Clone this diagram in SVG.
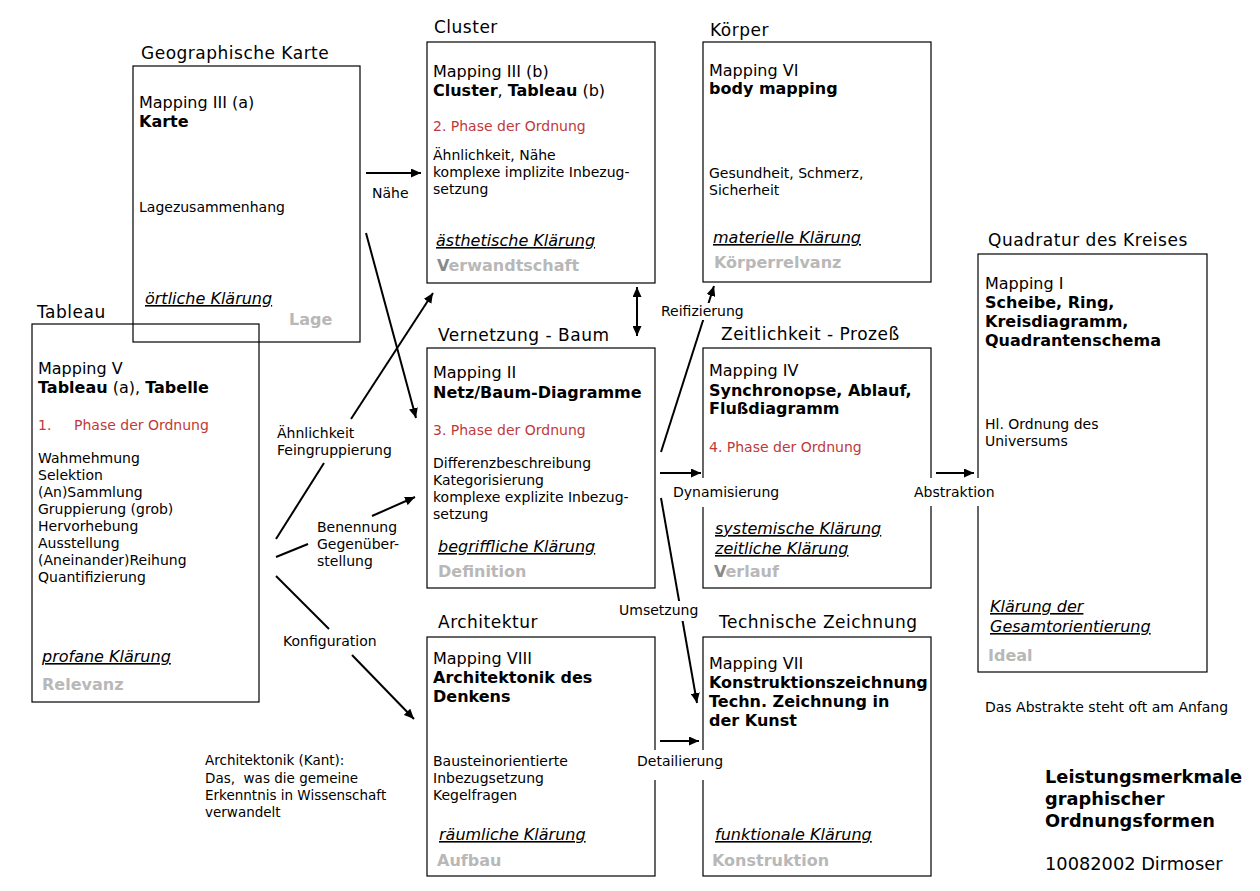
<svg xmlns="http://www.w3.org/2000/svg" width="1260" height="891" viewBox="0 0 1260 891">
<style>
text{font-family:"DejaVu Sans",Verdana,sans-serif;fill:#000}
.box{fill:none;stroke:#000;stroke-width:1.2}
.ti{font-size:17px;letter-spacing:0.5px}
.m{font-size:16px}
.b{font-weight:bold}
.r{font-size:14px;fill:#c03a3a}
.s{font-size:14px}
.k{font-size:16px;font-style:italic;text-decoration:underline;text-decoration-thickness:1.6px;text-underline-offset:2px}
.g{font-size:16px;font-weight:bold;fill:#b8b8b8}
.gd{fill:#8a8a8a}
.kant{font-size:13.5px}
.big{font-size:17.8px}
.ln{stroke:#000;stroke-width:2;fill:none}
.bg{fill:#fff}
</style>
<defs>
<marker id="ah" markerUnits="userSpaceOnUse" markerWidth="11" markerHeight="9" refX="10" refY="4.5" orient="auto-start-reverse">
<path d="M0,0 L10,4.5 L0,9 Z" fill="#000"/>
</marker>
</defs>

<g id="geographische-karte">
<rect class="box" x="133" y="66" width="227" height="276"/>
<text class="ti" x="141" y="59">Geographische Karte</text>
<text class="m" x="139" y="108">Mapping III (a)</text>
<text class="m b" x="139" y="127">Karte</text>
<text class="s" x="139" y="212">Lagezusammenhang</text>
<text class="k" x="145" y="304">örtliche Klärung</text>
<text class="g" x="289" y="325">Lage</text>
</g>

<g id="tableau">
<rect class="box" x="32" y="324" width="227" height="378"/>
<text class="ti" x="37" y="318">Tableau</text>
<text class="m" x="38" y="374">Mapping V</text>
<text class="m" x="38" y="393"><tspan class="b">Tableau</tspan> (a), <tspan class="b">Tabelle</tspan></text>
<text class="r" x="38" y="430">1.</text>
<text class="r" x="74" y="430">Phase der Ordnung</text>
<text class="s" x="38" y="463">Wahmehmung</text>
<text class="s" x="38" y="480">Selektion</text>
<text class="s" x="38" y="497">(An)Sammlung</text>
<text class="s" x="38" y="514">Gruppierung (grob)</text>
<text class="s" x="38" y="531">Hervorhebung</text>
<text class="s" x="38" y="548">Ausstellung</text>
<text class="s" x="38" y="565">(Aneinander)Reihung</text>
<text class="s" x="38" y="582">Quantifizierung</text>
<text class="k" x="42" y="662">profane Klärung</text>
<text class="g" x="42" y="690">Relevanz</text>
</g>

<g id="cluster">
<rect class="box" x="427" y="42" width="228" height="241"/>
<text class="ti" x="434" y="33">Cluster</text>
<text class="m" x="433" y="77">Mapping III (b)</text>
<text class="m" x="433" y="96"><tspan class="b">Cluster</tspan>, <tspan class="b">Tableau</tspan> (b)</text>
<text class="r" x="433" y="131">2. Phase der Ordnung</text>
<text class="s" x="433" y="160">Ähnlichkeit, Nähe</text>
<text class="s" x="433" y="177">komplexe implizite Inbezug-</text>
<text class="s" x="433" y="194">setzung</text>
<text class="k" x="436" y="246">ästhetische Klärung</text>
<text class="g" x="437" y="271"><tspan class="gd">V</tspan>erwandtschaft</text>
</g>

<g id="koerper">
<rect class="box" x="703" y="42" width="228" height="240"/>
<text class="ti" x="710" y="36">Körper</text>
<text class="m" x="709" y="76">Mapping VI</text>
<text class="m b" x="709" y="94">body mapping</text>
<text class="s" x="709" y="178">Gesundheit, Schmerz,</text>
<text class="s" x="709" y="195">Sicherheit</text>
<text class="k" x="713" y="243">materielle Klärung</text>
<text class="g" x="714" y="268">Körperrelvanz</text>
</g>

<g id="vernetzung">
<rect class="box" x="427" y="348" width="228" height="240"/>
<text class="ti" x="438" y="341">Vernetzung - Baum</text>
<text class="m" x="433" y="378">Mapping II</text>
<text class="m b" x="433" y="398">Netz/Baum-Diagramme</text>
<text class="r" x="433" y="435">3. Phase der Ordnung</text>
<text class="s" x="433" y="468">Differenzbeschreibung</text>
<text class="s" x="433" y="485">Kategorisierung</text>
<text class="s" x="433" y="502">komplexe explizite Inbezug-</text>
<text class="s" x="433" y="519">setzung</text>
<text class="k" x="438" y="552">begriffliche Klärung</text>
<text class="g" x="438" y="577">Definition</text>
</g>

<g id="zeitlichkeit">
<rect class="box" x="703" y="348" width="228" height="240"/>
<text class="ti" x="721" y="340">Zeitlichkeit - Prozeß</text>
<text class="m" x="709" y="376">Mapping IV</text>
<text class="m b" x="709" y="396">Synchronopse, Ablauf,</text>
<text class="m b" x="709" y="414">Flußdiagramm</text>
<text class="r" x="709" y="452">4. Phase der Ordnung</text>
<text class="k" x="715" y="534">systemische Klärung</text>
<text class="k" x="715" y="554">zeitliche Klärung</text>
<text class="g" x="714" y="577"><tspan class="gd">V</tspan>erlauf</text>
</g>

<g id="quadratur">
<rect class="box" x="978" y="254" width="229" height="418"/>
<text class="ti" x="988" y="246">Quadratur des Kreises</text>
<text class="m" x="985" y="289">Mapping I</text>
<text class="m b" x="985" y="308">Scheibe, Ring,</text>
<text class="m b" x="985" y="327">Kreisdiagramm,</text>
<text class="m b" x="985" y="346">Quadrantenschema</text>
<text class="s" x="985" y="429">Hl. Ordnung des</text>
<text class="s" x="985" y="446">Universums</text>
<text class="k" x="990" y="612">Klärung der</text>
<text class="k" x="990" y="632">Gesamtorientierung</text>
<text class="g" x="988" y="661">Ideal</text>
</g>

<g id="architektur">
<rect class="box" x="427" y="637" width="228" height="239"/>
<text class="ti" x="438" y="628">Architektur</text>
<text class="m" x="433" y="664">Mapping VIII</text>
<text class="m b" x="433" y="683">Architektonik des</text>
<text class="m b" x="433" y="702">Denkens</text>
<text class="s" x="433" y="766">Bausteinorientierte</text>
<text class="s" x="433" y="783">Inbezugsetzung</text>
<text class="s" x="433" y="800">Kegelfragen</text>
<text class="k" x="439" y="840">räumliche Klärung</text>
<text class="g" x="437" y="866">Aufbau</text>
</g>

<g id="technische-zeichnung">
<rect class="box" x="703" y="637" width="228" height="239"/>
<text class="ti" x="719" y="628">Technische Zeichnung</text>
<text class="m" x="709" y="669">Mapping VII</text>
<text class="m b" x="709" y="688">Konstruktionszeichnung</text>
<text class="m b" x="709" y="707">Techn. Zeichnung in</text>
<text class="m b" x="709" y="726">der Kunst</text>
<text class="k" x="715" y="840">funktionale Klärung</text>
<text class="g" x="712" y="866">Konstruktion</text>
</g>

<g id="connectors">
<line class="ln" x1="366" y1="173" x2="421" y2="173" marker-end="url(#ah)"/>
<line class="ln" x1="366" y1="233" x2="416" y2="418" marker-end="url(#ah)"/>
<line class="ln" x1="276" y1="539" x2="324" y2="463"/>
<line class="ln" x1="351" y1="419" x2="433" y2="293" marker-end="url(#ah)"/>
<line class="ln" x1="276" y1="557" x2="308" y2="544"/>
<line class="ln" x1="372" y1="516" x2="415" y2="497" marker-end="url(#ah)"/>
<line class="ln" x1="276" y1="576" x2="329" y2="629"/>
<line class="ln" x1="352" y1="655" x2="414" y2="719" marker-end="url(#ah)"/>
<line class="ln" x1="637" y1="287" x2="637" y2="336" marker-start="url(#ah)" marker-end="url(#ah)"/>
<line class="ln" x1="661" y1="452" x2="714" y2="286" marker-end="url(#ah)"/>
<line class="ln" x1="660" y1="473" x2="701" y2="473" marker-end="url(#ah)"/>
<line class="ln" x1="936" y1="473" x2="974" y2="473" marker-end="url(#ah)"/>
<line class="ln" x1="661" y1="498" x2="697" y2="703" marker-end="url(#ah)"/>
<line class="ln" x1="660" y1="741" x2="699" y2="741" marker-end="url(#ah)"/>
</g>

<g id="labels">
<text class="s" x="372" y="198">Nähe</text>
<rect class="bg" x="658" y="303" width="90" height="17"/>
<text class="s" x="661" y="316">Reifizierung</text>
<text class="s" x="277" y="438">Ähnlichkeit</text>
<text class="s" x="277" y="455">Feingruppierung</text>
<text class="s" x="317" y="532">Benennung</text>
<text class="s" x="317" y="549">Gegenüber-</text>
<text class="s" x="317" y="566">stellung</text>
<text class="s" x="283" y="646">Konfiguration</text>
<rect class="bg" x="668" y="478" width="114" height="29"/>
<text class="s" x="673" y="497">Dynamisierung</text>
<rect class="bg" x="909" y="478" width="89" height="28"/>
<text class="s" x="914" y="497">Abstraktion</text>
<rect class="bg" x="616" y="601" width="84" height="20"/>
<text class="s" x="619" y="615">Umsetzung</text>
<rect class="bg" x="633" y="750" width="94" height="30"/>
<text class="s" x="637" y="766">Detailierung</text>
<text class="kant" x="205" y="765">Architektonik (Kant):</text>
<text class="kant" x="205" y="783" xml:space="preserve">Das,  was die gemeine</text>
<text class="kant" x="205" y="800">Erkenntnis in Wissenschaft</text>
<text class="kant" x="205" y="817">verwandelt</text>
<text class="s" x="985" y="712">Das Abstrakte steht oft am Anfang</text>
<text class="big b" x="1045" y="783">Leistungsmerkmale</text>
<text class="big b" x="1045" y="805">graphischer</text>
<text class="big b" x="1045" y="827">Ordnungsformen</text>
<text class="big" x="1045" y="870">10082002 Dirmoser</text>
</g>
</svg>
